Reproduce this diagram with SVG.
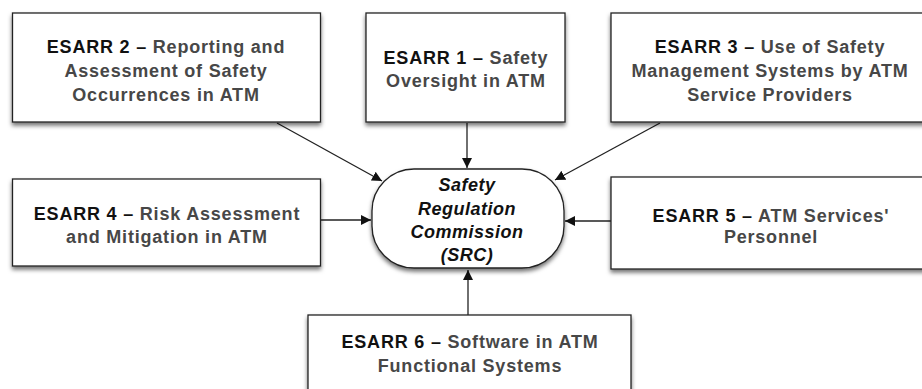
<svg xmlns="http://www.w3.org/2000/svg" width="922" height="389" viewBox="0 0 922 389">
<defs>
<filter id="sh" x="-10%" y="-10%" width="125%" height="130%">
<feDropShadow dx="0" dy="3" stdDeviation="2.2" flood-color="#000" flood-opacity="0.55"/>
</filter>
<marker id="ah" viewBox="0 0 10 10" refX="10" refY="5" markerWidth="10" markerHeight="10" markerUnits="userSpaceOnUse" orient="auto">
<path d="M0,0 L10,5 L0,10 z" fill="#111"/>
</marker>
</defs>
<style>
.box{fill:#fff;stroke:#222;stroke-width:1.3;filter:url(#sh)}
.t{font-family:"Liberation Sans",Arial,sans-serif;font-size:18px;letter-spacing:0.8px;font-weight:bold;fill:#474747;text-anchor:middle}
.k{fill:#111}
.s{font-family:"Liberation Sans",Arial,sans-serif;font-size:18px;letter-spacing:0.5px;font-weight:bold;font-style:italic;fill:#111;text-anchor:middle}
.c{stroke:#222;stroke-width:1.3;fill:none;marker-end:url(#ah)}
</style>
<g id="connectors">
<line class="c" x1="277" y1="123" x2="382" y2="181"/>
<line class="c" x1="467" y1="123" x2="467" y2="168"/>
<line class="c" x1="660" y1="123" x2="555" y2="180"/>
<line class="c" x1="321" y1="220" x2="371" y2="220"/>
<line class="c" x1="611" y1="221" x2="565" y2="221"/>
<line class="c" x1="468" y1="315" x2="468" y2="270"/>
</g>
<g id="esarr2">
<rect class="box" x="12.5" y="13" width="308" height="109"/>
<text class="t" x="166" y="53"><tspan class="k">ESARR 2 –</tspan> Reporting and</text>
<text class="t" x="166" y="77">Assessment of Safety</text>
<text class="t" x="166" y="101">Occurrences in ATM</text>
</g>
<g id="esarr1">
<rect class="box" x="366" y="13" width="199" height="109"/>
<text class="t" x="466" y="64"><tspan class="k">ESARR 1 –</tspan> Safety</text>
<text class="t" x="466" y="87">Oversight in ATM</text>
</g>
<g id="esarr3">
<rect class="box" x="611" y="13" width="320" height="109"/>
<text class="t" x="770" y="53"><tspan class="k">ESARR 3 –</tspan> Use of Safety</text>
<text class="t" x="770" y="77">Management Systems by ATM</text>
<text class="t" x="770" y="101">Service Providers</text>
</g>
<g id="esarr4">
<rect class="box" x="12.5" y="179" width="308" height="87"/>
<text class="t" x="167" y="220"><tspan class="k">ESARR 4 –</tspan> Risk Assessment</text>
<text class="t" x="167" y="243">and Mitigation in ATM</text>
</g>
<g id="src">
<rect class="box" x="372" y="169" width="192" height="99" rx="42" ry="42"/>
<text class="s" x="467" y="191">Safety</text>
<text class="s" x="467" y="215">Regulation</text>
<text class="s" x="467" y="238">Commission</text>
<text class="s" x="467" y="261">(SRC)</text>
</g>
<g id="esarr5">
<rect class="box" x="611" y="177" width="320" height="92"/>
<text class="t" x="771" y="222"><tspan class="k">ESARR 5 –</tspan> ATM Services'</text>
<text class="t" x="771" y="243">Personnel</text>
</g>
<g id="esarr6">
<rect class="box" x="308" y="315" width="323" height="90"/>
<text class="t" x="470" y="348"><tspan class="k">ESARR 6 –</tspan> Software in ATM</text>
<text class="t" x="470" y="372">Functional Systems</text>
</g>
</svg>
